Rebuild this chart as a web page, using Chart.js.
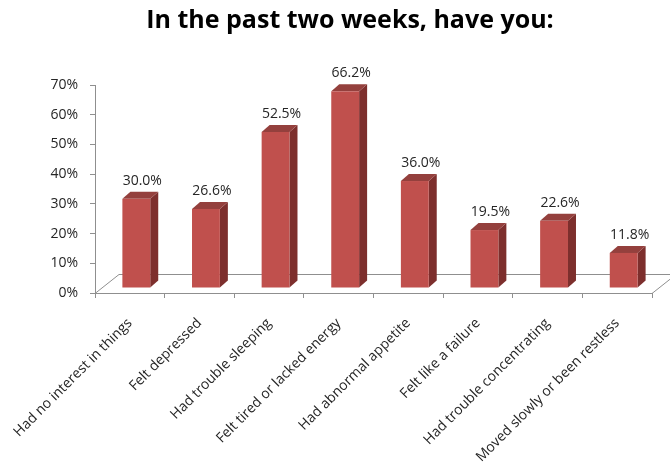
<!DOCTYPE html>
<html>
<head>
<meta charset="utf-8">
<script src="https://cdn.jsdelivr.net/npm/chart.js@4.4.1/dist/chart.umd.min.js"></script>
<style>
  html, body { margin: 0; padding: 0; background: #fff; }
  #chart { display: block; }
</style>
</head>
<body>
<canvas id="chart" width="670" height="469"></canvas>
<script>
// Survey answers (percent of respondents)
const categories = [
    'Had no interest in things',
    'Felt depressed',
    'Had trouble sleeping',
    'Felt tired or lacked energy',
    'Had abnormal appetite',
    'Felt like a failure',
    'Had trouble concentrating',
    'Moved slowly or been restless'
];
const percentages = [30.0, 26.6, 52.5, 66.2, 36.0, 19.5, 22.6, 11.8];
const yTicks = [0, 10, 20, 30, 40, 50, 60, 70];

const FONT = "'Open Sans', 'Noto Sans', sans-serif";
const AXIS_GRAY = '#8f8f8f';

// Fake 3D look: bars are pushed back into the floor and get a top and side face
const FLOOR_DEPTH = { dx: 24, dy: -19 };
const BAR_SHIFT = { dx: 6.5, dy: -5 };
const BAR_DEPTH = { dx: 8, dy: -7 };

const bars3d = {
    id: 'bars3d',
    beforeDatasetsDraw(chart) {
        const { ctx, chartArea } = chart;
        const y0 = chart.scales.y.getPixelForValue(0);
        const l = chartArea.left, r = chartArea.right;
        ctx.save();
        ctx.strokeStyle = AXIS_GRAY;
        ctx.lineWidth = 1;
        ctx.beginPath();
        ctx.moveTo(l, y0 + 0.5);
        ctx.lineTo(l + FLOOR_DEPTH.dx, y0 + FLOOR_DEPTH.dy + 0.5);
        ctx.lineTo(r + FLOOR_DEPTH.dx, y0 + FLOOR_DEPTH.dy + 0.5);
        ctx.moveTo(r, y0 + 0.5);
        ctx.lineTo(r + FLOOR_DEPTH.dx, y0 + FLOOR_DEPTH.dy + 0.5);
        ctx.stroke();
        ctx.restore();
    },
    afterDatasetsDraw(chart) {
        const { ctx } = chart;
        const meta = chart.getDatasetMeta(0);
        ctx.save();
        meta.data.forEach((bar, i) => {
            const { x, y, base, width } = bar.getProps(['x', 'y', 'base', 'width'], true);
            const left = x - width / 2 + BAR_SHIFT.dx;
            const right = x + width / 2 + BAR_SHIFT.dx;
            const top = y + BAR_SHIFT.dy;
            const bottom = base + BAR_SHIFT.dy;
            const { dx, dy } = BAR_DEPTH;

            // side
            ctx.fillStyle = '#7d2f2d';
            ctx.beginPath();
            ctx.moveTo(right, top);
            ctx.lineTo(right + dx, top + dy);
            ctx.lineTo(right + dx, bottom + dy);
            ctx.lineTo(right, bottom);
            ctx.closePath();
            ctx.fill();

            // top
            ctx.fillStyle = '#94403d';
            ctx.beginPath();
            ctx.moveTo(left, top);
            ctx.lineTo(left + dx, top + dy);
            ctx.lineTo(right + dx, top + dy);
            ctx.lineTo(right, top);
            ctx.closePath();
            ctx.fill();

            // front
            ctx.fillStyle = '#c0504d';
            ctx.fillRect(left, top, right - left, bottom - top);

            // value label
            ctx.fillStyle = '#262626';
            ctx.font = '14px ' + FONT;
            ctx.textAlign = 'center';
            ctx.textBaseline = 'middle';
            ctx.fillText(percentages[i].toFixed(1) + '%', (left + right + dx) / 2 + 2, top + dy - 11);
        });
        ctx.restore();
    }
};

new Chart(document.getElementById('chart'), {
    type: 'bar',
    data: {
        labels: categories,
        datasets: [{
            data: percentages,
            backgroundColor: 'rgba(0,0,0,0)',
            borderWidth: 0,
            barPercentage: 0.4,
            categoryPercentage: 1
        }]
    },
    options: {
        responsive: false,
        animation: false,
        devicePixelRatio: 1,
        // left padding keeps the title centred over the plot rather than the canvas
        layout: { padding: { left: 48, right: 18, top: 0, bottom: 0 } },
        plugins: {
            legend: { display: false },
            tooltip: { enabled: false },
            title: {
                display: true,
                text: 'In the past two weeks, have you:',
                color: '#000',
                font: { family: FONT, size: 25, weight: 'bold' },
                padding: { top: 6, bottom: 49 }
            }
        },
        scales: {
            x: {
                grid: {
                    drawOnChartArea: false,
                    drawTicks: true,
                    tickLength: 5,
                    color: AXIS_GRAY,
                    offset: true
                },
                border: { display: true, color: AXIS_GRAY },
                ticks: {
                    autoSkip: false,
                    minRotation: 45,
                    maxRotation: 45,
                    color: '#262626',
                    padding: 17,
                    font: { family: FONT, size: 14 }
                },
                afterFit(scale) {
                    scale.height = 176;
                    // rotated labels may hang past the left edge; don't let them squeeze the plot
                    scale.paddingLeft = 0;
                    scale.paddingRight = 0;
                }
            },
            y: {
                min: 0,
                max: 70,
                afterBuildTicks(scale) {
                    scale.ticks = yTicks.map(v => ({ value: v }));
                },
                grid: {
                    drawOnChartArea: false,
                    drawTicks: true,
                    tickLength: 5,
                    color: AXIS_GRAY
                },
                border: { display: true, color: AXIS_GRAY },
                ticks: {
                    color: '#262626',
                    padding: 12,
                    font: { family: FONT, size: 14 },
                    callback: v => v + '%'
                },
                afterFit(scale) { scale.width = 47; }
            }
        }
    },
    plugins: [bars3d]
});
</script>
</body>
</html>
